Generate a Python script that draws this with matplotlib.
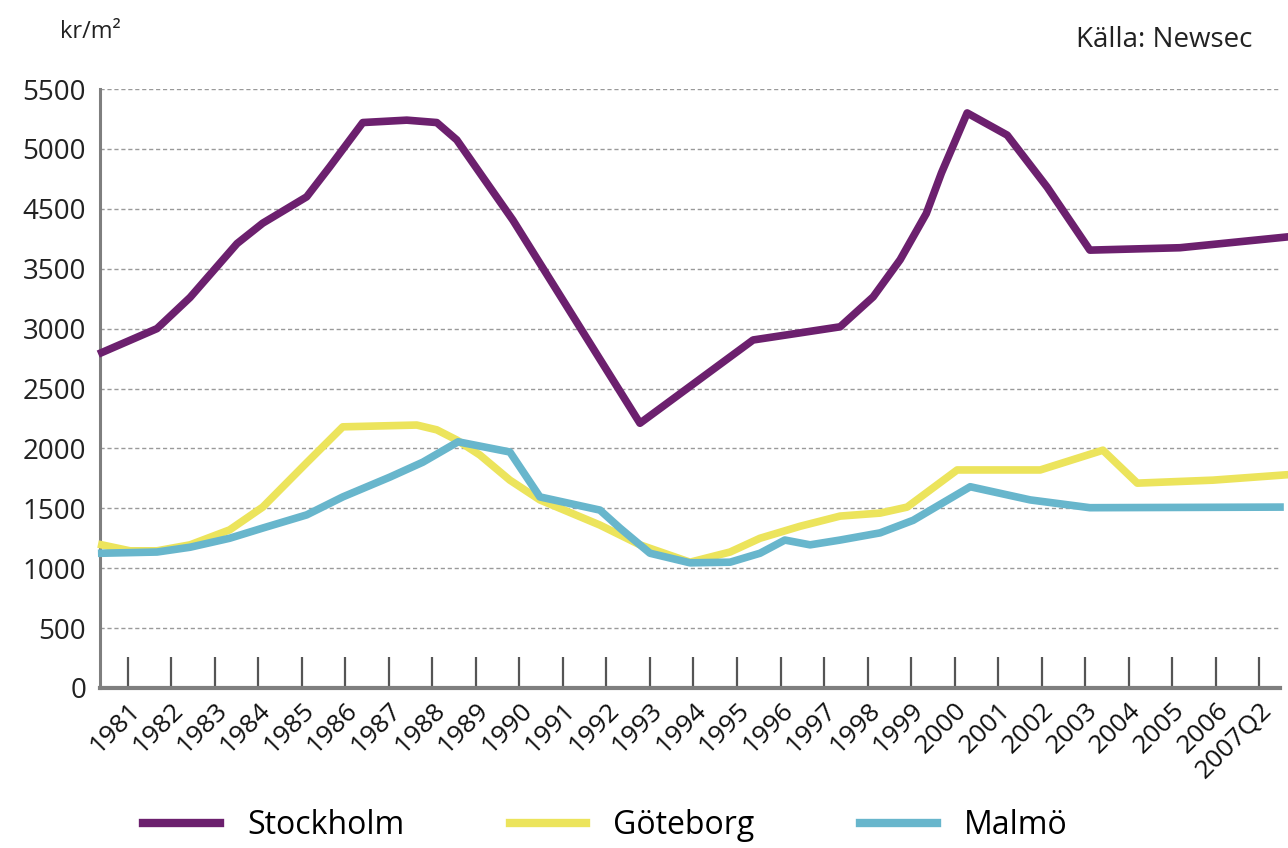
import numpy as np
import matplotlib.pyplot as plt
from matplotlib.lines import Line2D

plt.rcParams['font.family'] = ['Open Sans', 'DejaVu Sans']

# x tick labels (one per year, last one is 2007Q2)
years = list(range(1981, 2008))
year_labels = [str(y) for y in range(1981, 2007)] + ['2007Q2']

# y axis labels as printed in the source (note: no 4000)
y_ticks = np.arange(0, 5001, 500)
y_labels = ['0', '500', '1000', '1500', '2000', '2500', '3000', '3500',
            '4500', '5000', '5500']

# series (decimal year, kr/m2 on the axis scale)
sthlm_x = [1980.40, 1981.67, 1982.43, 1983.51, 1984.10, 1985.11, 1985.64, 1986.40,
           1987.41, 1988.10, 1988.56, 1989.32, 1989.85, 1992.77, 1995.37, 1997.37,
           1998.13, 1998.75, 1999.35, 1999.70, 2000.29, 2001.21, 2002.13,
           2003.11, 2005.18, 2007.64]
sthlm_y = [2800, 3000, 3260, 3710, 3880, 4100, 4350, 4720,
           4740, 4720, 4575, 4180, 3905, 2210, 2905, 3015,
           3265, 3575, 3960, 4300, 4800, 4615, 4180,
           3655, 3675, 3765]

gbg_x = [1980.40, 1981.05, 1981.67, 1982.43, 1983.34, 1984.10, 1985.11, 1985.94,
         1987.64, 1988.10, 1988.56, 1989.09, 1989.78, 1990.47, 1991.85, 1992.77,
         1993.92, 1994.84, 1995.53, 1996.45, 1997.37, 1998.29, 1998.91, 2000.06,
         2001.97, 2003.41, 2004.20, 2005.94, 2007.64]
gbg_y = [1195, 1145, 1145, 1195, 1320, 1510, 1880, 2180,
         2195, 2155, 2070, 1945, 1735, 1570, 1360, 1195,
         1050, 1135, 1250, 1350, 1435, 1460, 1510, 1820,
         1820, 1985, 1710, 1735, 1780]

malmo_x = [1980.40, 1981.67, 1982.43, 1983.34, 1984.10, 1985.11, 1985.94, 1987.02,
           1987.78, 1988.59, 1989.78, 1990.47, 1991.85, 1992.31, 1993.00, 1993.92,
           1994.84, 1995.53, 1996.10, 1996.68, 1997.37, 1998.29, 1999.05, 2000.36,
           2001.74, 2003.11, 2007.48]
malmo_y = [1125, 1135, 1175, 1250, 1335, 1445, 1595, 1760,
           1885, 2055, 1970, 1595, 1485, 1335, 1125, 1045,
           1050, 1125, 1235, 1195, 1235, 1295, 1400, 1680,
           1570, 1505, 1510]

c_sthlm = '#6c206e'
c_gbg = '#ece45c'
c_malmo = '#68b6cc'
grey = '#7f7f7f'

fig = plt.figure(figsize=(12.88, 8.48), dpi=100)
ax = fig.add_axes([100 / 1288, 1 - 688 / 848, 1180 / 1288, 599 / 848])

ax.plot(gbg_x, gbg_y, color=c_gbg, lw=5.5, solid_joinstyle='round', clip_on=False, zorder=3)
ax.plot(malmo_x, malmo_y, color=c_malmo, lw=5.5, solid_joinstyle='round', clip_on=False, zorder=4)
ax.plot(sthlm_x, sthlm_y, color=c_sthlm, lw=5.5, solid_joinstyle='round', clip_on=False, zorder=5)

ax.set_ylim(0, 5000)
ax.set_xlim(1980.36, 2007.48)
ax.set_yticks(y_ticks)
ax.set_yticklabels(y_labels)
ax.set_xticks(years)
ax.set_xticklabels(year_labels, rotation=45, ha='right', va='top', rotation_mode='anchor')

ax.yaxis.grid(True, color='#9a9a9a', lw=1.0, ls=(0, (3, 2)))
ax.set_axisbelow(True)

for s in ['top', 'right']:
    ax.spines[s].set_visible(False)
ax.spines['left'].set_color(grey)
ax.spines['left'].set_linewidth(2.2)
ax.spines['bottom'].set_color(grey)
ax.spines['bottom'].set_linewidth(3)

ax.tick_params(axis='y', length=0, pad=10, labelsize=20, labelcolor='#222222')
ax.tick_params(axis='x', direction='in', length=22, width=1.6, color='#555555',
               pad=7, labelsize=19, labelcolor='#111111')

fig.text(60 / 1288, 1 - 32 / 848, 'kr/m²', fontsize=17, va='center', ha='left', color='#222222')
fig.text(1252 / 1288, 1 - 40 / 848, 'Källa: Newsec', fontsize=20, va='center', ha='right', color='#222222')

handles = [Line2D([], [], color=c, lw=6) for c in (c_sthlm, c_gbg, c_malmo)]
fig.legend(handles, ['Stockholm', 'Göteborg', 'Malmö'], loc='center',
           bbox_to_anchor=(0.47, 1 - 826 / 848), ncol=3, frameon=False,
           fontsize=23, handlelength=2.4, handletextpad=0.85, columnspacing=3.3)

fig.savefig('out.png', dpi=100)
